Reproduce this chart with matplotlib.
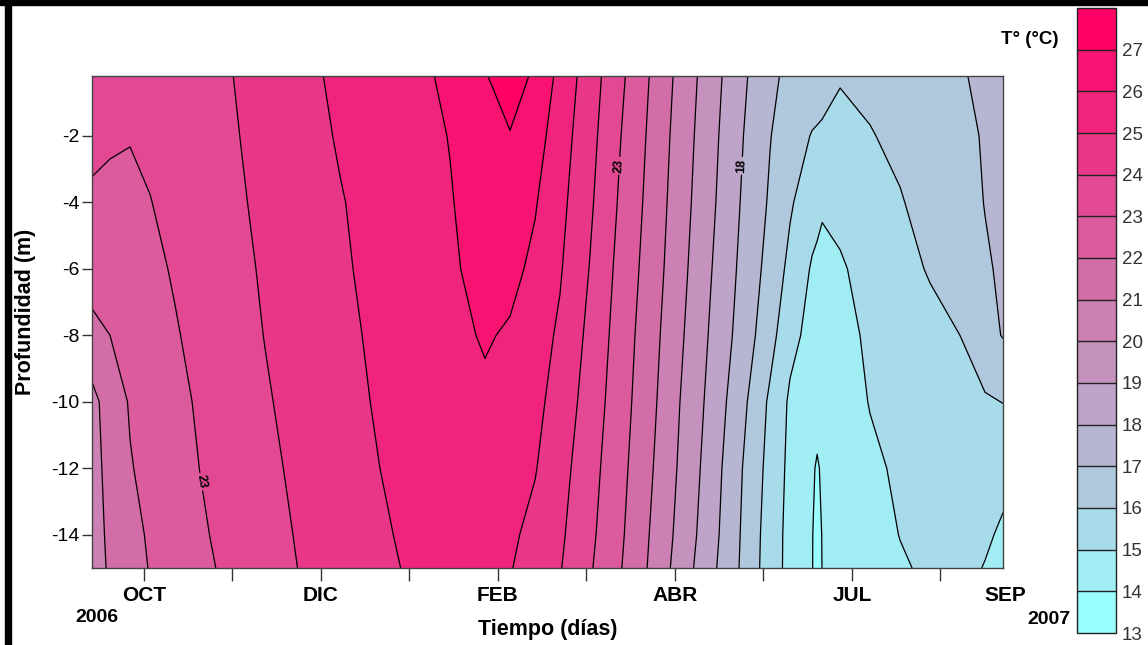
import numpy as np
import matplotlib

matplotlib.use("Agg")

import matplotlib.pyplot as plt
from matplotlib.colors import ListedColormap, to_rgb
from matplotlib.patches import Rectangle
from matplotlib.transforms import blended_transform_factory

plt.rcParams["font.family"] = ["Liberation Sans", "DejaVu Sans"]
plt.rcParams["axes.unicode_minus"] = False

# tiempo (dias) de cada columna de la grilla
dias = [12.4, 18.5, 25.3, 32.1, 40.5, 49.0, 59.2, 71.0, 82.9, 96.5, 110.0, 123.6,
        133.8, 145.6, 154.1, 162.6, 171.0, 181.2, 191.4, 201.6, 211.7, 221.9,
        232.1, 242.2, 249.0, 256.5, 258.2, 259.9, 266.0, 276.1, 286.3, 296.5,
        306.6, 315.1, 321.2]

# profundidad (m) de cada fila
profundidad = [-0.2, -2, -4, -6, -8, -10, -12, -14, -15]

# temperatura (°C), una fila por profundidad
t_0 = [23.4, 23.5, 23.55, 23.65, 23.75, 23.85, 23.97, 24.3, 24.75, 25.18, 25.5, 25.82,
       26.2, 26.96, 27.3, 26.9, 25.7, 24.48, 23.22, 21.96, 20.71, 19.48, 18.28, 17.18,
       16.8, 16.5, 16.45, 16.39, 16.05, 16.22, 16.46, 16.7, 16.94, 17.13, 17.25]
t_2 = [23.16, 23.08, 23.03, 23.15, 23.35, 23.55, 23.9, 24.26, 24.65, 25.08, 25.42, 25.75,
       26.03, 26.5, 26.97, 26.42, 25.48, 24.32, 23.04, 21.83, 20.58, 19.36, 18.12, 17.04,
       16.44, 15.95, 15.9, 15.85, 15.8, 15.95, 16.2, 16.53, 16.84, 17.05, 17.18]
t_4 = [22.9, 22.85, 22.85, 22.98, 23.22, 23.5, 23.82, 24.18, 24.54, 24.95, 25.31, 25.68,
       25.95, 26.4, 26.55, 26.07, 25.28, 24.15, 22.88, 21.71, 20.46, 19.24, 18.0, 16.88,
       16.12, 15.4, 15.25, 15.1, 15.25, 15.55, 15.94, 16.32, 16.71, 17.02, 17.15]
t_6 = [22.45, 22.5, 22.65, 22.8, 23.08, 23.37, 23.71, 24.1, 24.46, 24.88, 25.25, 25.6,
       25.87, 26.3, 26.25, 25.8, 25.09, 23.96, 22.71, 21.58, 20.33, 19.08, 17.85, 16.65,
       15.75, 14.9, 14.82, 14.77, 14.9, 15.31, 15.69, 16.08, 16.54, 16.92, 17.1]
t_8 = [21.7, 22.0, 22.29, 22.57, 22.93, 23.24, 23.6, 24.02, 24.38, 24.79, 25.17, 25.51,
       25.77, 26.08, 25.9, 25.41, 24.86, 23.75, 22.57, 21.42, 20.17, 18.92, 17.68, 16.35,
       15.28, 14.7, 14.6, 14.52, 14.72, 15.14, 15.43, 15.71, 16.0, 16.66, 17.05]
t_10 = [20.7, 21.45, 22.08, 22.38, 22.76, 23.11, 23.48, 23.91, 24.29, 24.69, 25.1, 25.45,
        25.7, 25.85, 25.6, 25.25, 24.62, 23.56, 22.45, 21.29, 20.0, 18.75, 17.37, 15.83,
        14.85, 14.35, 14.3, 14.32, 14.5, 15.04, 15.26, 15.48, 15.7, 15.89, 16.02]
t_12 = [20.6, 21.33, 21.94, 22.27, 22.64, 23.01, 23.36, 23.8, 24.18, 24.59, 25.0, 25.3,
        25.5, 25.55, 25.35, 25.05, 24.37, 23.37, 22.31, 21.13, 19.87, 18.58, 17.11, 15.67,
        14.76, 14.1, 13.92, 14.1, 14.34, 14.81, 15.15, 15.35, 15.45, 15.35, 15.2]
t_14 = [20.55, 21.2, 21.7, 22.12, 22.5, 22.88, 23.26, 23.68, 24.08, 24.49, 24.9, 25.2,
        25.35, 25.35, 25.15, 24.76, 24.17, 23.21, 22.17, 20.96, 19.71, 18.43, 17.0, 15.53,
        14.7, 14.03, 13.8, 14.02, 14.25, 14.64, 15.02, 15.2, 15.25, 15.1, 14.9]
t_15 = [20.5, 21.14, 21.6, 22.05, 22.42, 22.79, 23.19, 23.61, 24.03, 24.44, 24.84, 25.15,
        25.28, 25.22, 25.05, 24.6, 24.06, 23.1, 22.07, 20.88, 19.58, 18.3, 16.95, 15.5,
        14.7, 14.03, 13.75, 14.01, 14.21, 14.55, 14.9, 15.15, 15.2, 14.97, 14.85]

niveles = list(range(13, 29))
meses = ["OCT", "DIC", "FEB", "ABR", "JUL", "SEP"]
dias_meses = [30, 90, 150, 210, 270, 322]
ticks_x = list(range(30, 301, 30))
ticks_y = [-14, -12, -10, -8, -6, -4, -2]
# posiciones de las etiquetas de isotermas
etiquetas = [(49.7, -12.4), (191.4, -2.9), (232.7, -2.9)]

temperatura = np.array([t_0, t_2, t_4, t_6, t_8, t_10, t_12, t_14, t_15])

# paleta cian -> rosa, un color por intervalo
c_bajo = np.array(to_rgb("#99FFFF"))
c_alto = np.array(to_rgb("#FF0066"))
n_int = len(niveles) - 1
cmap = ListedColormap([c_bajo + (c_alto - c_bajo) * i / (n_int - 1) for i in range(n_int)])

W, H = 1148, 645
fig = plt.figure(figsize=(W / 100, H / 100), dpi=100)
ax = fig.add_axes([92 / W, 1 - 568 / H, 911 / W, 492 / H])

cf = ax.contourf(dias, profundidad, temperatura, levels=niveles, cmap=cmap,
                 vmin=niveles[0], vmax=niveles[-1])
cl = ax.contour(dias, profundidad, temperatura, levels=niveles[1:-1],
                colors="black", linewidths=0.9)
labels = ax.clabel(cl, manual=etiquetas, fmt="%d", fontsize=9, inline=True, inline_spacing=2)
for t in labels:
    t.set_fontweight("bold")

ax.set_xlim(dias[0], dias[-1])
ax.set_ylim(-15, -0.2)
ax.set_xticks(ticks_x)
ax.set_xticklabels([])
ax.set_yticks(ticks_y)
ax.set_yticklabels([str(v) for v in ticks_y])
ax.tick_params(axis="x", direction="out", length=9, width=1, color="#333333")
ax.tick_params(axis="y", direction="out", length=7, width=1, color="#333333",
               labelsize=14, pad=2)
for sp in ax.spines.values():
    sp.set_color("#444444")
    sp.set_linewidth(1)

trans = blended_transform_factory(ax.transData, ax.transAxes)
for d, m in zip(dias_meses, meses):
    ax.text(d, -0.055, m, transform=trans, ha="center", va="center",
            fontsize=15, fontweight="bold")

fig.text(97 / W, 1 - 618 / H, "2006", ha="center", va="center", fontsize=14, fontweight="bold")
fig.text(1049 / W, 1 - 620 / H, "2007", ha="center", va="center", fontsize=14, fontweight="bold")
fig.text(548 / W, 1 - 630 / H, "Tiempo (días)", ha="center", va="center",
         fontsize=15.5, fontweight="bold")
fig.text(26 / W, 1 - 312 / H, "Profundidad (m)", ha="center", va="center",
         rotation=90, fontsize=15.5, fontweight="bold")
fig.text(1030 / W, 1 - 40 / H, "T° (°C)", ha="center", va="center",
         fontsize=13.5, fontweight="bold")

# barra de colores
cax = fig.add_axes([1077 / W, 1 - 633 / H, 39 / W, 625 / H])
cb = fig.colorbar(cf, cax=cax, ticks=niveles[:-1], drawedges=True)
cb.outline.set_edgecolor("#222222")
cb.outline.set_linewidth(1)
cb.dividers.set_color("#222222")
cb.dividers.set_linewidth(1)
cax.tick_params(length=0, labelsize=13.5, pad=4, labelcolor="#333333")

# marco negro de la imagen original
fig.patches.append(Rectangle((0, 1 - 5 / H), 1, 5 / H, transform=fig.transFigure,
                             color="black", zorder=10))
fig.patches.append(Rectangle((5 / W, 0), 6 / W, 1, transform=fig.transFigure,
                             color="black", zorder=10))

fig.savefig("out.png", dpi=100)
